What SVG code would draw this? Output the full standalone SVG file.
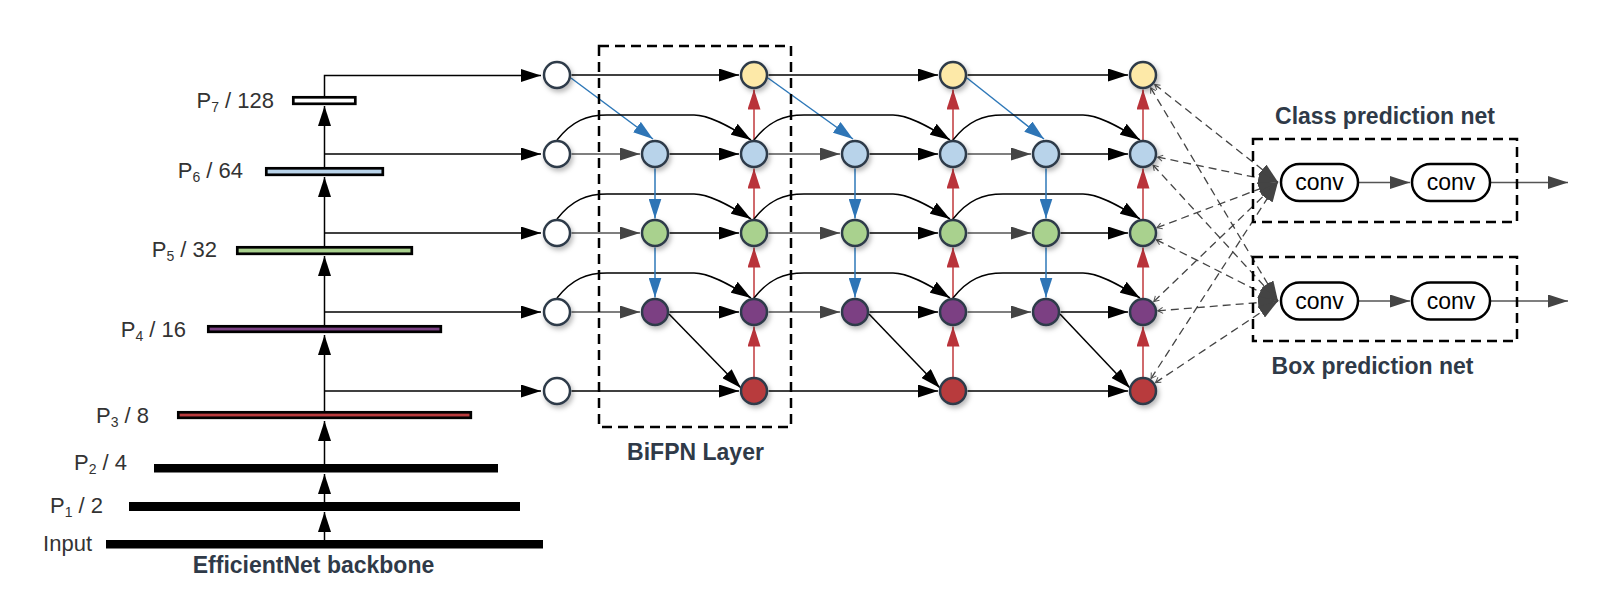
<svg xmlns="http://www.w3.org/2000/svg" width="1600" height="593" viewBox="0 0 1600 593">
<style>
.lbl{font-family:"Liberation Sans",Arial,sans-serif;font-size:22px;fill:#333;}
.sub{font-size:14px;}
.ttl{font-family:"Liberation Sans",Arial,sans-serif;font-size:23px;font-weight:bold;fill:#2f3a48;text-anchor:middle;}
.conv{font-family:"Liberation Sans",Arial,sans-serif;font-size:23px;fill:#000;text-anchor:middle;}
.bar{stroke:#000;stroke-width:2.7;}
.solid{fill:#000;}
.nd{stroke:#2e3b4a;stroke-width:2.5;filter:url(#sh);}
.k{fill:none;stroke:#000;stroke-width:1.5;marker-end:url(#ak);}
.g{fill:none;stroke:#555;stroke-width:1.5;marker-end:url(#ag);}
.b{fill:none;stroke:#2e78b8;stroke-width:1.5;marker-end:url(#abl);}
.r{fill:none;stroke:#c0393b;stroke-width:1.5;marker-end:url(#ar);}
.d{fill:none;stroke:#444;stroke-width:1.3;stroke-dasharray:8 5;marker-end:url(#ag);marker-start:url(#ao);}
.box{fill:none;stroke:#000;stroke-width:2.5;stroke-dasharray:10 6;}
.pill{fill:#fff;stroke:#000;stroke-width:2.5;}
</style>
<defs>
<filter id="sh" x="-50%" y="-50%" width="200%" height="200%">
<feDropShadow dx="2" dy="3" stdDeviation="2.5" flood-color="#000" flood-opacity="0.28"/>
</filter>
<marker id="ak" viewBox="0 0 20 13" refX="20" refY="6.5" markerWidth="20" markerHeight="13" markerUnits="userSpaceOnUse" orient="auto"><path d="M0,0 L20,6.5 L0,13 z" fill="#000"/></marker>
<marker id="ag" viewBox="0 0 20 13" refX="20" refY="6.5" markerWidth="20" markerHeight="13" markerUnits="userSpaceOnUse" orient="auto"><path d="M0,0 L20,6.5 L0,13 z" fill="#444"/></marker>
<marker id="abl" viewBox="0 0 20 13" refX="20" refY="6.5" markerWidth="20" markerHeight="13" markerUnits="userSpaceOnUse" orient="auto"><path d="M0,0 L20,6.5 L0,13 z" fill="#2e75b6"/></marker>
<marker id="ar" viewBox="0 0 20 13" refX="20" refY="6.5" markerWidth="20" markerHeight="13" markerUnits="userSpaceOnUse" orient="auto"><path d="M0,0 L20,6.5 L0,13 z" fill="#b9333a"/></marker>
<marker id="ao" viewBox="-1 -4 7 8" refX="0" refY="0" markerWidth="7" markerHeight="8" markerUnits="userSpaceOnUse" orient="auto"><path d="M5,-3 L0,0 L5,3" fill="none" stroke="#555" stroke-width="1"/></marker>
</defs>
<rect width="1600" height="593" fill="#fff"/>

<g id="connectors">
<path class="k" d="M324.5,540 V512"/>
<path class="k" d="M324.5,502 V474"/>
<path class="k" d="M324.5,464 V421"/>
<path class="k" d="M324.5,411 V335"/>
<path class="k" d="M324.5,325 V256"/>
<path class="k" d="M324.5,246 V177"/>
<path class="k" d="M324.5,167 V106"/>
<path class="k" d="M324.5,391 H541"/>
<path class="k" d="M324.5,312 H541"/>
<path class="k" d="M324.5,233 H541"/>
<path class="k" d="M324.5,154 H541"/>
<path class="k" d="M324.5,96 V75.5 H541"/>

<path class="k" d="M571.5,75 H739"/>
<path class="b" d="M571,78 L653,139"/>
<path class="g" d="M571.5,154 H640"/>
<path class="k" d="M669.5,154 H739"/>
<path class="k" d="M557,140 C572,121 587,115 607,115 L694,115 C709,115 729,126 751,140"/>
<path class="g" d="M571.5,233 H640"/>
<path class="k" d="M669.5,233 H739"/>
<path class="k" d="M557,219 C572,200 587,194 607,194 L694,194 C709,194 729,205 751,219"/>
<path class="g" d="M571.5,312 H640"/>
<path class="k" d="M669.5,312 H739"/>
<path class="k" d="M557,298 C572,279 587,273 607,273 L694,273 C709,273 729,284 751,298"/>
<path class="b" d="M655,168.5 V218.5"/>
<path class="b" d="M655,247.5 V297.5"/>
<path class="k" d="M669,314 L741,388"/>
<path class="k" d="M571.5,391 H739"/>
<path class="r" d="M754,377 V326.5"/>
<path class="r" d="M754,298 V247.5"/>
<path class="r" d="M754,219 V168.5"/>
<path class="r" d="M754,140 V89.5"/>

<path class="k" d="M768.5,75 H938"/>
<path class="b" d="M768,78 L853,139"/>
<path class="g" d="M768.5,154 H840"/>
<path class="k" d="M869.5,154 H938"/>
<path class="k" d="M754,140 C769,121 784,115 804,115 L893,115 C908,115 928,126 950,140"/>
<path class="g" d="M768.5,233 H840"/>
<path class="k" d="M869.5,233 H938"/>
<path class="k" d="M754,219 C769,200 784,194 804,194 L893,194 C908,194 928,205 950,219"/>
<path class="g" d="M768.5,312 H840"/>
<path class="k" d="M869.5,312 H938"/>
<path class="k" d="M754,298 C769,279 784,273 804,273 L893,273 C908,273 928,284 950,298"/>
<path class="b" d="M855,168.5 V218.5"/>
<path class="b" d="M855,247.5 V297.5"/>
<path class="k" d="M869,314 L940,388"/>
<path class="k" d="M768.5,391 H938"/>
<path class="r" d="M953,377 V326.5"/>
<path class="r" d="M953,298 V247.5"/>
<path class="r" d="M953,219 V168.5"/>
<path class="r" d="M953,140 V89.5"/>

<path class="k" d="M967.5,75 H1128"/>
<path class="b" d="M967,78 L1044,139"/>
<path class="g" d="M967.5,154 H1031"/>
<path class="k" d="M1060.5,154 H1128"/>
<path class="k" d="M953,140 C968,121 983,115 1003,115 L1083,115 C1098,115 1118,126 1140,140"/>
<path class="g" d="M967.5,233 H1031"/>
<path class="k" d="M1060.5,233 H1128"/>
<path class="k" d="M953,219 C968,200 983,194 1003,194 L1083,194 C1098,194 1118,205 1140,219"/>
<path class="g" d="M967.5,312 H1031"/>
<path class="k" d="M1060.5,312 H1128"/>
<path class="k" d="M953,298 C968,279 983,273 1003,273 L1083,273 C1098,273 1118,284 1140,298"/>
<path class="b" d="M1046,168.5 V218.5"/>
<path class="b" d="M1046,247.5 V297.5"/>
<path class="k" d="M1060,314 L1130,388"/>
<path class="k" d="M967.5,391 H1128"/>
<path class="r" d="M1143,377 V326.5"/>
<path class="r" d="M1143,298 V247.5"/>
<path class="r" d="M1143,219 V168.5"/>
<path class="r" d="M1143,140 V89.5"/>

<path class="d" d="M1154.7,84.4 L1278,182"/>
<path class="d" d="M1150.7,87.9 L1278,301"/>
<path class="d" d="M1157.7,157.1 L1278,182"/>
<path class="d" d="M1153.1,165.1 L1278,301"/>
<path class="d" d="M1157,227.7 L1278,182"/>
<path class="d" d="M1156.4,239.8 L1278,301"/>
<path class="d" d="M1153.8,301.6 L1278,182"/>
<path class="d" d="M1157.9,310.8 L1278,301"/>
<path class="d" d="M1151.1,378.4 L1278,182"/>
<path class="d" d="M1155.5,382.6 L1278,301"/>

<path class="g" d="M1358,182.5 H1410"/>
<path class="g" d="M1491,182.5 H1568"/>
<path class="g" d="M1358,301 H1410"/>
<path class="g" d="M1491,301 H1568"/>
</g>

<g id="backbone">
<rect class="bar" x="293.3" y="97.3" width="62" height="6.5" fill="#fff"/>
<rect class="bar" x="266.3" y="168.3" width="116.5" height="6.5" fill="#b8d3ea"/>
<rect class="bar" x="237.3" y="247.3" width="174.5" height="6.5" fill="#a9d18e"/>
<rect class="bar" x="208.3" y="326.3" width="232.5" height="5.5" fill="#7b4183"/>
<rect class="bar" x="178.3" y="412.3" width="292.5" height="5.5" fill="#b83a3c"/>
<rect class="solid" x="154" y="464" width="344" height="8.5"/>
<rect class="solid" x="129" y="502" width="391" height="9"/>
<rect class="solid" x="106" y="540" width="437" height="8.5"/>
<text class="lbl" x="274" y="108" text-anchor="end">P<tspan class="sub" dy="4">7</tspan><tspan dy="-4"> / 128</tspan></text>
<text class="lbl" x="243" y="178" text-anchor="end">P<tspan class="sub" dy="4">6</tspan><tspan dy="-4"> / 64</tspan></text>
<text class="lbl" x="217" y="257" text-anchor="end">P<tspan class="sub" dy="4">5</tspan><tspan dy="-4"> / 32</tspan></text>
<text class="lbl" x="186" y="337" text-anchor="end">P<tspan class="sub" dy="4">4</tspan><tspan dy="-4"> / 16</tspan></text>
<text class="lbl" x="149" y="423" text-anchor="end">P<tspan class="sub" dy="4">3</tspan><tspan dy="-4"> / 8</tspan></text>
<text class="lbl" x="127" y="470" text-anchor="end">P<tspan class="sub" dy="4">2</tspan><tspan dy="-4"> / 4</tspan></text>
<text class="lbl" x="103" y="513" text-anchor="end">P<tspan class="sub" dy="4">1</tspan><tspan dy="-4"> / 2</tspan></text>
<text class="lbl" x="92" y="551" text-anchor="end">Input</text>
<text class="ttl" x="313.5" y="573">EfficientNet backbone</text>
</g>

<g id="bifpn-layer">
<rect class="box" x="599" y="46" width="192" height="381"/>
<text class="ttl" x="695.5" y="460">BiFPN Layer</text>
</g>

<g id="nodes">
<g id="in-P7"><circle class="nd" cx="557" cy="75" r="13" fill="#fff"/></g>
<g id="in-P6"><circle class="nd" cx="557" cy="154" r="13" fill="#fff"/></g>
<g id="in-P5"><circle class="nd" cx="557" cy="233" r="13" fill="#fff"/></g>
<g id="in-P4"><circle class="nd" cx="557" cy="312" r="13" fill="#fff"/></g>
<g id="in-P3"><circle class="nd" cx="557" cy="391" r="13" fill="#fff"/></g>

<g id="l1-mid-P6"><circle class="nd" cx="655" cy="154" r="13" fill="#b8d3ea"/></g>
<g id="l1-mid-P5"><circle class="nd" cx="655" cy="233" r="13" fill="#a9d18e"/></g>
<g id="l1-mid-P4"><circle class="nd" cx="655" cy="312" r="13" fill="#7b4183"/></g>
<g id="l1-out-P7"><circle class="nd" cx="754" cy="75" r="13" fill="#fde9a8"/></g>
<g id="l1-out-P6"><circle class="nd" cx="754" cy="154" r="13" fill="#b8d3ea"/></g>
<g id="l1-out-P5"><circle class="nd" cx="754" cy="233" r="13" fill="#a9d18e"/></g>
<g id="l1-out-P4"><circle class="nd" cx="754" cy="312" r="13" fill="#7b4183"/></g>
<g id="l1-out-P3"><circle class="nd" cx="754" cy="391" r="13" fill="#b83a3c"/></g>

<g id="l2-mid-P6"><circle class="nd" cx="855" cy="154" r="13" fill="#b8d3ea"/></g>
<g id="l2-mid-P5"><circle class="nd" cx="855" cy="233" r="13" fill="#a9d18e"/></g>
<g id="l2-mid-P4"><circle class="nd" cx="855" cy="312" r="13" fill="#7b4183"/></g>
<g id="l2-out-P7"><circle class="nd" cx="953" cy="75" r="13" fill="#fde9a8"/></g>
<g id="l2-out-P6"><circle class="nd" cx="953" cy="154" r="13" fill="#b8d3ea"/></g>
<g id="l2-out-P5"><circle class="nd" cx="953" cy="233" r="13" fill="#a9d18e"/></g>
<g id="l2-out-P4"><circle class="nd" cx="953" cy="312" r="13" fill="#7b4183"/></g>
<g id="l2-out-P3"><circle class="nd" cx="953" cy="391" r="13" fill="#b83a3c"/></g>

<g id="l3-mid-P6"><circle class="nd" cx="1046" cy="154" r="13" fill="#b8d3ea"/></g>
<g id="l3-mid-P5"><circle class="nd" cx="1046" cy="233" r="13" fill="#a9d18e"/></g>
<g id="l3-mid-P4"><circle class="nd" cx="1046" cy="312" r="13" fill="#7b4183"/></g>
<g id="l3-out-P7"><circle class="nd" cx="1143" cy="75" r="13" fill="#fde9a8"/></g>
<g id="l3-out-P6"><circle class="nd" cx="1143" cy="154" r="13" fill="#b8d3ea"/></g>
<g id="l3-out-P5"><circle class="nd" cx="1143" cy="233" r="13" fill="#a9d18e"/></g>
<g id="l3-out-P4"><circle class="nd" cx="1143" cy="312" r="13" fill="#7b4183"/></g>
<g id="l3-out-P3"><circle class="nd" cx="1143" cy="391" r="13" fill="#b83a3c"/></g>
</g>

<g id="class-net">
<rect class="box" x="1253" y="139" width="264" height="83"/>
<text class="ttl" x="1385" y="124">Class prediction net</text>
<g id="class-conv1"><rect class="pill" x="1281" y="164" width="77" height="37" rx="18.5"/><text class="conv" x="1319.5" y="190">conv</text></g>
<g id="class-conv2"><rect class="pill" x="1412" y="164" width="78" height="37" rx="18.5"/><text class="conv" x="1451" y="190">conv</text></g>
</g>

<g id="box-net">
<rect class="box" x="1253" y="257" width="264" height="84"/>
<text class="ttl" x="1372.5" y="374">Box prediction net</text>
<g id="box-conv1"><rect class="pill" x="1281" y="282.5" width="77" height="37" rx="18.5"/><text class="conv" x="1319.5" y="308.5">conv</text></g>
<g id="box-conv2"><rect class="pill" x="1412" y="282.5" width="78" height="37" rx="18.5"/><text class="conv" x="1451" y="308.5">conv</text></g>
</g>
</svg>
